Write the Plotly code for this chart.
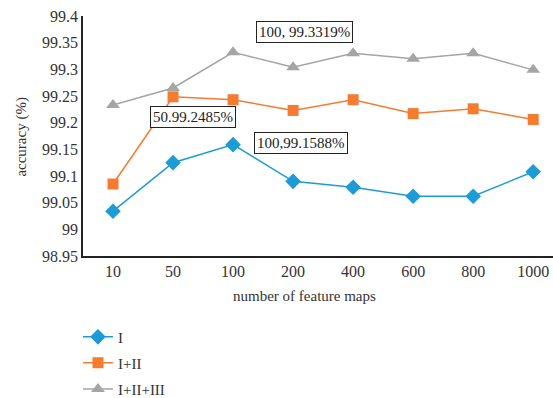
import plotly.graph_objects as go

# number of feature maps (categorical x axis)
feature_maps = ["10", "50", "100", "200", "400", "600", "800", "1000"]

# accuracy (%) for each feature combination
acc_i = [99.034, 99.125, 99.1588, 99.090, 99.079, 99.062, 99.062, 99.108]
acc_i_ii = [99.085, 99.2485, 99.243, 99.223, 99.243, 99.217, 99.226, 99.206]
acc_i_ii_iii = [99.233, 99.265, 99.3319, 99.304, 99.330, 99.320, 99.330, 99.299]

y_ticks = [98.95, 99.0, 99.05, 99.1, 99.15, 99.2, 99.25, 99.3, 99.35, 99.4]
y_tick_text = ["98.95", "99", "99.05", "99.1", "99.15", "99.2", "99.25", "99.3", "99.35", "99.4"]

FONT = "Liberation Serif, Times New Roman, serif"
TEXT = "#333333"

fig = go.Figure()

series = [
    ("I", acc_i, "#1c9bd7", "diamond", 12, "legend", 0.153),
    ("I+II", acc_i_ii, "#f47b2f", "square", 11, "legend2", 0.088),
    ("I+II+III", acc_i_ii_iii, "#a5a5a5", "triangle-up", 12, "legend3", 0.022),
]
legend_cfg = {}
for name, vals, color, symbol, size, leg, ly in series:
    fig.add_trace(go.Scatter(
        x=feature_maps, y=vals, name=name, mode="lines+markers",
        line=dict(color=color, width=1.5),
        marker=dict(symbol=symbol, size=size, color=color),
        legend=leg,
    ))
    # one legend box per series so the rows can be spaced freely
    legend_cfg[leg] = dict(
        x=0.141, y=ly, xref="container", yref="container",
        xanchor="left", yanchor="middle",
        font=dict(family=FONT, size=15, color=TEXT),
        itemwidth=30, bgcolor="rgba(0,0,0,0)",
    )

# value callouts
callouts = [
    ("100, 99.3319%", 3.19, 99.370),
    ("50.99.2485%", 1.33, 99.211),
    ("100,99.1588%", 3.13, 99.161),
]
for text, xpos, ypos in callouts:
    fig.add_annotation(
        x=xpos, y=ypos, xref="x", yref="y", text=text, showarrow=False,
        font=dict(family=FONT, size=15, color="#222222"),
        bgcolor="white", bordercolor="#222222", borderwidth=1, borderpad=2,
    )

# axis titles
fig.add_annotation(
    x=0.4723, y=-0.167, xref="paper", yref="paper", text="number of feature maps",
    showarrow=False, xanchor="center", yanchor="middle",
    font=dict(family=FONT, size=15, color=TEXT),
)
fig.add_annotation(
    x=-0.13, y=0.497, xref="paper", yref="paper", text="accuracy (%)",
    showarrow=False, textangle=-90, xanchor="center", yanchor="middle",
    font=dict(family=FONT, size=15, color=TEXT),
)

fig.update_layout(
    width=553, height=398,
    margin=dict(l=83, r=0, t=16, b=142, autoexpand=False),
    paper_bgcolor="white", plot_bgcolor="white",
    font=dict(family=FONT, size=15, color=TEXT),
    showlegend=True,
    **legend_cfg,
    xaxis=dict(
        type="category", range=[-0.5, 7.33],
        showgrid=False, zeroline=False,
        showline=True, linecolor="#222222", linewidth=1.5,
        ticks="", tickfont=dict(family=FONT, size=16, color=TEXT),
    ),
    yaxis=dict(
        range=[98.95, 99.4], tickvals=y_ticks, ticktext=y_tick_text,
        showgrid=False, zeroline=False,
        showline=True, linecolor="#222222", linewidth=1.5,
        ticks="", tickfont=dict(family=FONT, size=16, color=TEXT),
    ),
)

fig.write_html("out.html")
